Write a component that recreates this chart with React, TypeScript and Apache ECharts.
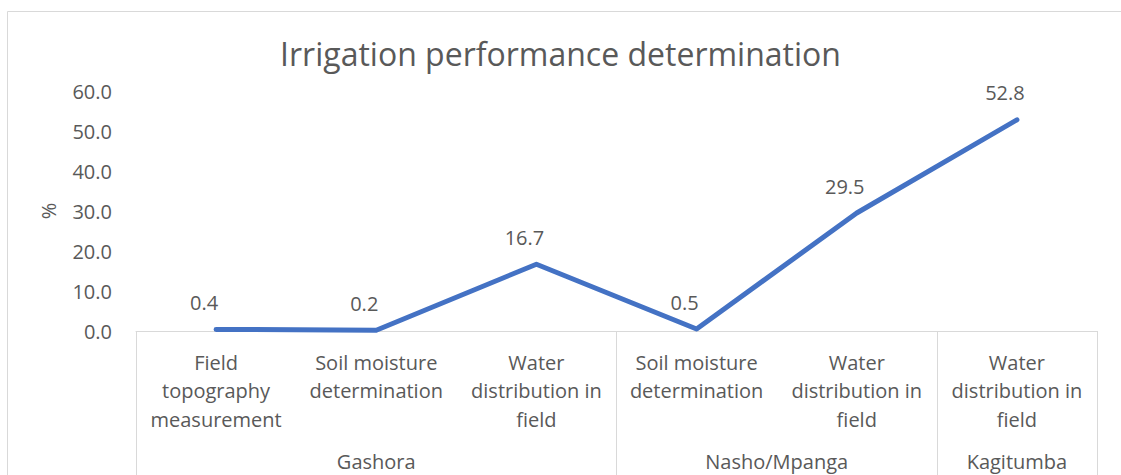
import React, { useEffect, useRef } from "react";
import * as echarts from "echarts";

const categories: string[] = [
  "Field\ntopography\nmeasurement",
  "Soil moisture\ndetermination",
  "Water\ndistribution in\nfield",
  "Soil moisture\ndetermination",
  "Water\ndistribution in\nfield",
  "Water\ndistribution in\nfield",
];
const values: number[] = [0.4, 0.2, 16.7, 0.5, 29.5, 52.8];
const groups: string[] = ["Gashora", "Nasho/Mpanga", "Kagitumba"];
const groupSizes: number[] = [3, 2, 1];
const yTicks: number[] = [0, 10, 20, 30, 40, 50, 60];

const TEXT = "#595959";
const LINE = "#d9d9d9";
const FONT = "Open Sans";

export default function App() {
  const ref = useRef<HTMLDivElement>(null);
  useEffect(() => {
    if (!ref.current) return;
    const chart = echarts.init(ref.current, null, { renderer: "svg" });

    const bounds: number[] = [0];
    const centers: number[] = [];
    let acc = 0;
    groupSizes.forEach((s) => {
      centers.push(acc + s / 2);
      acc += s;
      bounds.push(acc);
    });

    chart.setOption({
      animation: false,
      textStyle: { fontFamily: FONT },
      title: {
        text: "Irrigation performance determination",
        left: "center",
        top: 32,
        textStyle: { fontFamily: FONT, fontSize: 32, fontWeight: "normal", color: TEXT },
      },
      graphic: [
        {
          type: "rect",
          shape: { x: 7.5, y: 11.5, width: 1130, height: 480 },
          style: { fill: "none", stroke: LINE, lineWidth: 1 },
          silent: true,
          z: -10,
        },
      ],
      grid: { left: 136, right: 24, top: 91, bottom: 144, containLabel: false },
      xAxis: [
        {
          type: "category",
          data: categories,
          boundaryGap: true,
          axisLine: { show: true, lineStyle: { color: LINE, width: 1 } },
          axisTick: { show: false },
          axisLabel: {
            interval: 0,
            color: TEXT,
            fontFamily: FONT,
            fontSize: 20,
            lineHeight: 28.5,
            margin: 17,
            align: "center",
          },
          splitLine: { show: false },
        },
        {
          type: "value",
          position: "bottom",
          min: 0,
          max: categories.length,
          axisLine: { show: false },
          axisTick: {
            show: true,
            customValues: bounds,
            length: 150,
            inside: false,
            lineStyle: { color: LINE, width: 1 },
          },
          axisLabel: {
            show: true,
            customValues: centers,
            formatter: (v: number) => {
              const i = centers.findIndex((c) => Math.abs(c - v) < 1e-6);
              return i >= 0 ? groups[i] : "";
            },
            color: TEXT,
            fontFamily: FONT,
            fontSize: 20,
            margin: 120,
          },
          splitLine: { show: false },
        },
      ],
      yAxis: {
        type: "value",
        min: yTicks[0],
        max: yTicks[yTicks.length - 1],
        interval: 10,
        name: "%",
        nameLocation: "middle",
        nameGap: 78,
        nameRotate: 90,
        nameTextStyle: { color: TEXT, fontFamily: FONT, fontSize: 20 },
        axisLine: { show: false },
        axisTick: { show: false },
        splitLine: { show: false },
        axisLabel: {
          color: TEXT,
          fontFamily: FONT,
          fontSize: 20,
          margin: 24,
          formatter: (v: number) => v.toFixed(1),
        },
      },
      series: [
        {
          type: "line",
          xAxisIndex: 0,
          data: values,
          symbol: "circle",
          symbolSize: 0,
          showSymbol: true,
          lineStyle: { color: "#4472C4", width: 5, cap: "round", join: "round" },
          itemStyle: { color: "#4472C4" },
          label: {
            show: true,
            position: "top",
            distance: 17,
            offset: [-12, 0],
            color: TEXT,
            fontFamily: FONT,
            fontSize: 20,
            formatter: (p: any) => Number(p.value).toFixed(1),
          },
        },
      ],
    });
    return () => chart.dispose();
  }, []);
  return (
    <div
      ref={ref}
      style={{ position: "fixed", left: 0, top: 0, width: 1121, height: 475, background: "#fff" }}
    />
  );
}
